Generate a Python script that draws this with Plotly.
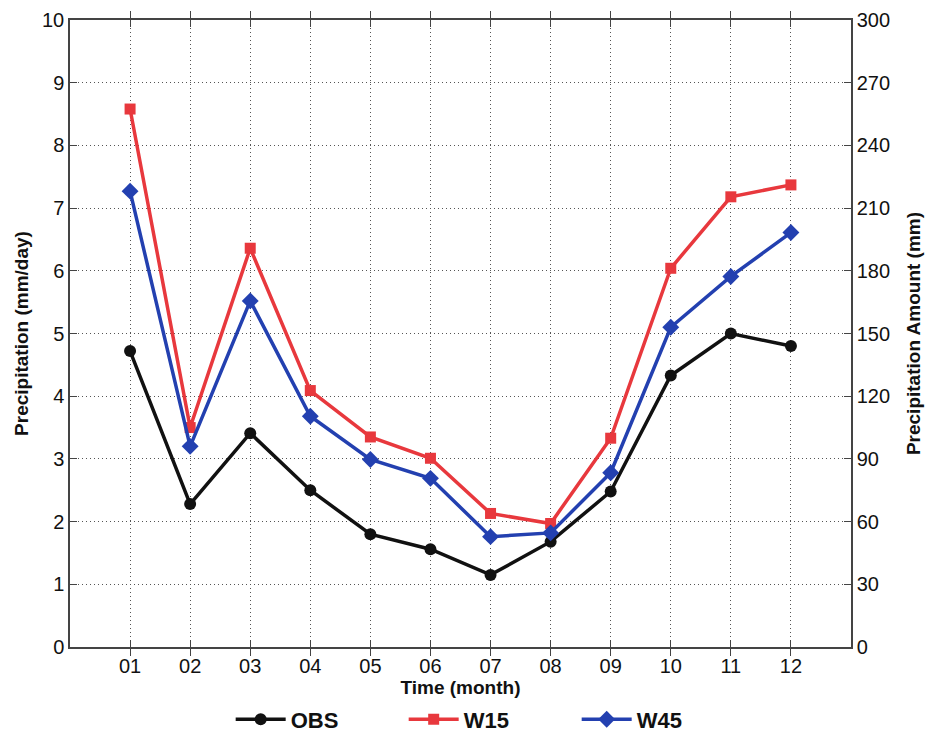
import plotly.graph_objects as go

months = ["01", "02", "03", "04", "05", "06", "07", "08", "09", "10", "11", "12"]
month_pos = [1, 2, 3, 4, 5, 6, 7, 8, 9, 10, 11, 12]
obs = [4.72, 2.28, 3.41, 2.50, 1.80, 1.56, 1.15, 1.68, 2.48, 4.33, 5.00, 4.80]
w15 = [8.58, 3.50, 6.36, 4.09, 3.35, 3.01, 2.13, 1.97, 3.33, 6.04, 7.18, 7.37]
w45 = [7.27, 3.20, 5.52, 3.68, 2.99, 2.69, 1.76, 1.82, 2.78, 5.10, 5.91, 6.61]
days_per_month = 30  # right axis: mm/day * 30 = mm

font_family = "Liberation Sans, Arial, sans-serif"

fig = go.Figure()
fig.add_trace(go.Scatter(x=month_pos, y=obs, name="OBS", mode="lines+markers",
                         line=dict(color="#111111", width=3.5),
                         marker=dict(symbol="circle", size=12, color="#111111")))
fig.add_trace(go.Scatter(x=month_pos, y=w15, name="W15", mode="lines+markers",
                         line=dict(color="#e8383d", width=3.5),
                         marker=dict(symbol="square", size=11, color="#e8383d")))
fig.add_trace(go.Scatter(x=month_pos, y=w45, name="W45", mode="lines+markers",
                         line=dict(color="#2340b0", width=3.5),
                         marker=dict(symbol="diamond", size=13, color="#2340b0")))
# invisible trace on the right axis so it is drawn
fig.add_trace(go.Scatter(x=month_pos, y=[v * days_per_month for v in obs], yaxis="y2",
                         mode="lines", line=dict(width=0, color="rgba(0,0,0,0)"),
                         showlegend=False, hoverinfo="skip"))

grid = dict(showgrid=True, gridcolor="#555555", griddash="1px,3px", gridwidth=1)
title_font = dict(size=19, weight="bold")
fig.update_layout(
    width=924, height=733,
    margin=dict(l=62, r=81, t=12, b=94, autoexpand=False),
    plot_bgcolor="white", paper_bgcolor="white",
    font=dict(family=font_family, size=20, color="#111111"),
    xaxis=dict(range=[0, 13], tickmode="array", tickvals=month_pos, ticktext=months,
               ticks="inside", ticklen=7, tickcolor="#444", mirror="allticks",
               showline=True, linecolor="#444", linewidth=1.5, zeroline=False, automargin=False,
               title=dict(text="Time (month)", font=title_font, standoff=4),
               **grid),
    yaxis=dict(range=[0, 10], dtick=1, ticks="inside", ticklen=7, tickcolor="#444",
               showline=True, linecolor="#444", linewidth=1.5, mirror=True, zeroline=False,
               automargin=False,
               title=dict(text="Precipitation (mm/day)", font=title_font, standoff=8),
               **grid),
    yaxis2=dict(range=[0, 300], dtick=30, overlaying="y", side="right",
                ticks="inside", ticklen=7, tickcolor="#444", showgrid=False, zeroline=False,
                showline=True, linecolor="#444", linewidth=1.5, automargin=False,
                title=dict(text="Precipitation Amount (mm)", font=title_font, standoff=18)),
    legend=dict(orientation="h", x=0.538, xanchor="center", y=-0.149, yanchor="bottom",
                font=dict(size=22, family=font_family, weight="bold"),
                itemwidth=50, entrywidth=108),
    showlegend=True,
)

fig.write_html("out.html")
